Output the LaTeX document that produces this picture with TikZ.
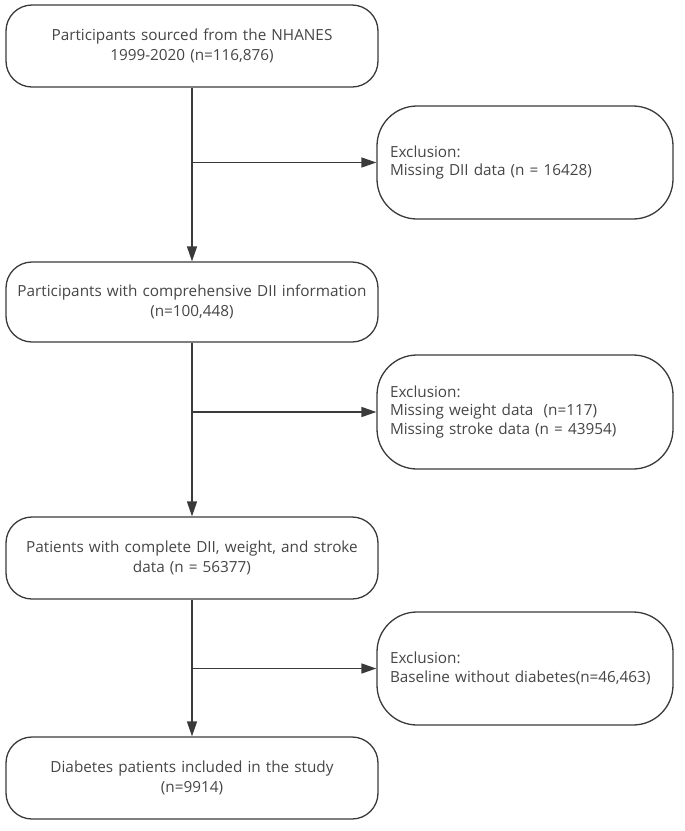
\documentclass[tikz,border=0pt]{standalone}
\usepackage{fontspec}
\setmainfont{Open Sans}
\usetikzlibrary{arrows.meta}
\definecolor{linec}{HTML}{3A3A3A}
\definecolor{textc}{HTML}{454545}
\begin{document}
\begin{tikzpicture}[x=1pt,y=-1pt,
  mainbox/.style={draw=linec, line width=1.3pt, rounded corners=26pt, minimum width=372pt, text width=366pt, align=center, inner xsep=3pt, text=textc, font=\fontsize{15.3}{19.5}\selectfont},
  exclbox/.style={draw=linec, line width=1.3pt, rounded corners=40pt, text width=270pt, inner xsep=13pt, align=left, text=textc, font=\fontsize{15.3}{18.5}\selectfont},
  arr/.style={draw=linec, line width=1.5pt, -{Triangle[length=15pt,width=10pt]}}]
\useasboundingbox (0,0) rectangle (685,831);
\node[mainbox, minimum height=82pt] (m1) at (192,46) {Participants sourced from the NHANES\\1999-2020 (n=116,876)};
\node[mainbox, minimum height=80pt] (m2) at (192,302) {Participants with comprehensive DII information\\(n=100,448)};
\node[mainbox, minimum height=82pt] (m3) at (192,558) {Patients with complete DII, weight, and stroke\\data (n = 56377)};
\node[mainbox, minimum height=82pt] (m4) at (192,778) {Diabetes patients included in the study\\(n=9914)};
\node[exclbox, minimum height=113pt] (e1) at (525,162.5) {Exclusion:\\Missing DII data (n = 16428)};
\node[exclbox, minimum height=114pt] (e2) at (525,412) {Exclusion:\\Missing weight data~~(n=117)\\Missing stroke data (n = 43954)};
\node[exclbox, minimum height=113pt] (e3) at (525,668.5) {Exclusion:\\Baseline without diabetes(n=46,463)};
\draw[arr] (m1.south) -- (m2.north);
\draw[arr] (m2.south) -- (m3.north);
\draw[arr] (m3.south) -- (m4.north);
\draw[arr] (m1.south |- e1.west) -- (e1.west);
\draw[arr] (m2.south |- e2.west) -- (e2.west);
\draw[arr] (m3.south |- e3.west) -- (e3.west);
\end{tikzpicture}
\end{document}
